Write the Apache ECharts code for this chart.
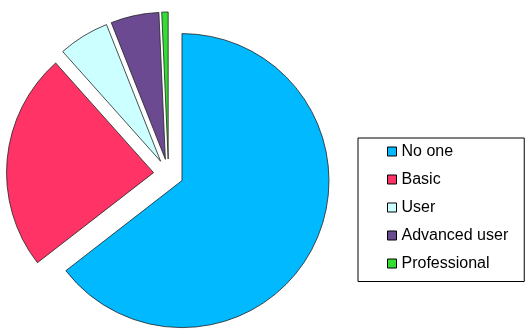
<!DOCTYPE html>
<html>
<head>
<meta charset="utf-8">
<script src="https://cdn.jsdelivr.net/npm/echarts@6/dist/echarts.min.js"></script>
<style>
html,body{margin:0;padding:0;background:#fff;}
#chart{width:529px;height:332px;}
</style>
</head>
<body>
<div id="chart"></div>
<script>
const categories = ['No one', 'Basic', 'User', 'Advanced user', 'Professional'];
const values = [64.5, 23.9, 5.6, 5.3, 0.7];
const colors = ['#00b9ff', '#ff3366', '#ccffff', '#6c4a92', '#33dd33'];

const chart = echarts.init(document.getElementById('chart'), null, {renderer: 'canvas'});
chart.setOption({
  animation: false,
  backgroundColor: '#ffffff',
  legend: {
    orient: 'vertical',
    left: 358,
    top: 138,
    data: categories,
    itemWidth: 9,
    itemHeight: 9,
    itemGap: 12,
    icon: 'rect',
    padding: [5.5, 16, 10, 29],
    borderColor: '#000',
    borderWidth: 1,
    selectedMode: false,
    itemStyle: {borderColor: '#000', borderWidth: 1},
    textStyle: {fontFamily: 'Liberation Sans', fontSize: 16, color: '#000'}
  },
  series: [{
    type: 'pie',
    center: [168.5, 174],
    radius: 147,
    startAngle: 90,
    clockwise: true,
    selectedMode: 'multiple',
    selectedOffset: 15,
    label: {show: false},
    labelLine: {show: false},
    emphasis: {disabled: true},
    itemStyle: {borderColor: '#222', borderWidth: 0.8},
    data: categories.map((c, i) => ({
      name: c,
      value: values[i],
      selected: true,
      itemStyle: {color: colors[i]}
    }))
  }]
});
</script>
</body>
</html>
